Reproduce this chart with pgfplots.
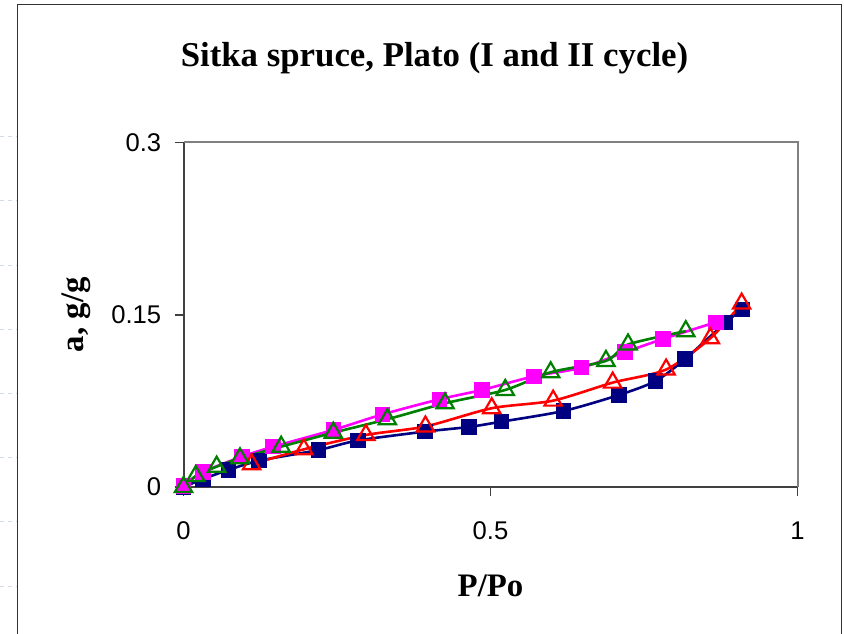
\documentclass[border=0pt]{standalone}
\usepackage{pgfplots}
\pgfplotsset{compat=1.18}
\usepackage{fontspec}
\setmainfont{Liberation Sans}
\newfontfamily\tnr{Liberation Serif}

\definecolor{xlnavy}{RGB}{0,0,128}
\definecolor{xlpink}{RGB}{255,0,255}
\definecolor{xlgreen}{RGB}{0,128,0}
\definecolor{sheetgrid}{RGB}{210,216,238}

\begin{document}
\begin{tikzpicture}[x=0.5bp,y=0.5bp]
% picture is 844 x 634 px, 1 px = 0.5bp
\useasboundingbox (0,0) rectangle (844,634);
\fill[white] (0,0) rectangle (844,634);
% faint worksheet gridlines left of the chart
\foreach \yy in {137,201,266,330,394,458,522,587}
  \draw[sheetgrid, dash pattern=on 2 off 2, line width=0.5bp] (0,634-\yy) -- (16,634-\yy);
% chart area border
\draw[black!80, line width=0.75bp] (17.5,-10) -- (17.5,629.5) -- (841.5,629.5) -- (841.5,-10);

\node[font=\tnr\bfseries\fontsize{17.4bp}{20bp}\selectfont] at (434.5,576) {Sitka spruce, Plato (I and II cycle)};

\begin{axis}[
    at={(91.75bp,73.5bp)}, anchor=south west,
    scale only axis, width=307bp, height=172.25bp,
    xmin=0, xmax=1, ymin=0, ymax=0.3,
    xtick={0,0.5,1}, ytick={0,0.15,0.3},
    xticklabels={0,0.5,1}, yticklabels={0,0.15,0.3},
    axis lines=left,
    axis line style={-, draw=black!75, line width=1bp},
    tick align=outside, major tick length=4.5bp,
    tick style={black!75, line width=0.8bp},
    xtick pos=bottom, ytick pos=left,
    tick label style={font=\fontsize{12.8bp}{15bp}\selectfont},
    /pgf/number format/assume math mode=true,
    yticklabel style={anchor=east, inner sep=0pt, xshift=-6.5bp},
    xticklabel style={anchor=north, inner sep=0pt, yshift=-12.5bp},
    xlabel={P/Po},
    ylabel={a, g/g},
    label style={font=\tnr\bfseries\fontsize{16.4bp}{19bp}\selectfont},
    xlabel style={at={(rel axis cs:0.5,0)}, anchor=center, yshift=-49.5bp},
    ylabel style={at={(rel axis cs:0,0.5)}, anchor=center, rotate=0, yshift=53.75bp},
    clip=false,
    every axis plot/.append style={line width=1.3bp, smooth, tension=0.45},
  ]
  \draw[black!50, line width=1bp] (rel axis cs:0,1) -- (rel axis cs:1,1) -- (rel axis cs:1,0);

  % cycle I sorption
  \addplot[xlnavy, mark=square*, mark size=3.6bp, mark options={fill=xlnavy, draw=xlnavy, line width=0.5bp}] coordinates {
    (0,0) (0.032,0.007) (0.073,0.0148) (0.123,0.0229) (0.220,0.0322)
    (0.284,0.0405) (0.393,0.0482) (0.465,0.0523) (0.518,0.0569)
    (0.619,0.0662) (0.709,0.0801) (0.769,0.0923) (0.817,0.1115)
    (0.883,0.1433) (0.910,0.1548)
  };
  % cycle I desorption
  \addplot[xlpink, mark=square*, mark size=3.6bp, mark options={fill=xlpink, draw=xlpink, line width=0.5bp}] coordinates {
    (0,0.001) (0.032,0.0131) (0.095,0.0264) (0.146,0.0351) (0.244,0.0497)
    (0.324,0.0632) (0.417,0.0764) (0.486,0.0845) (0.571,0.0964)
    (0.648,0.1038) (0.719,0.1174) (0.781,0.1289) (0.867,0.1435)
  };
  % cycle II sorption
  \addplot[red, mark=triangle, mark size=5bp, mark options={fill=white, draw=red, line width=1.1bp, solid}] coordinates {
    (0.111,0.0198) (0.196,0.0328) (0.297,0.0453) (0.394,0.0527)
    (0.502,0.0686) (0.602,0.0752) (0.699,0.0909) (0.786,0.1023)
    (0.858,0.1295) (0.909,0.1597)
  };
  % cycle II desorption
  \addplot[xlgreen, mark=triangle, mark size=5bp, mark options={fill=white, draw=xlgreen, line width=1.1bp, solid}] coordinates {
    (0,0) (0.020,0.0096) (0.054,0.0177) (0.092,0.0250) (0.159,0.0351)
    (0.244,0.0473) (0.332,0.0590) (0.426,0.0729) (0.524,0.0845)
    (0.598,0.0999) (0.688,0.1098) (0.724,0.1241) (0.818,0.1357)
  };
\end{axis}
\end{tikzpicture}
\end{document}
